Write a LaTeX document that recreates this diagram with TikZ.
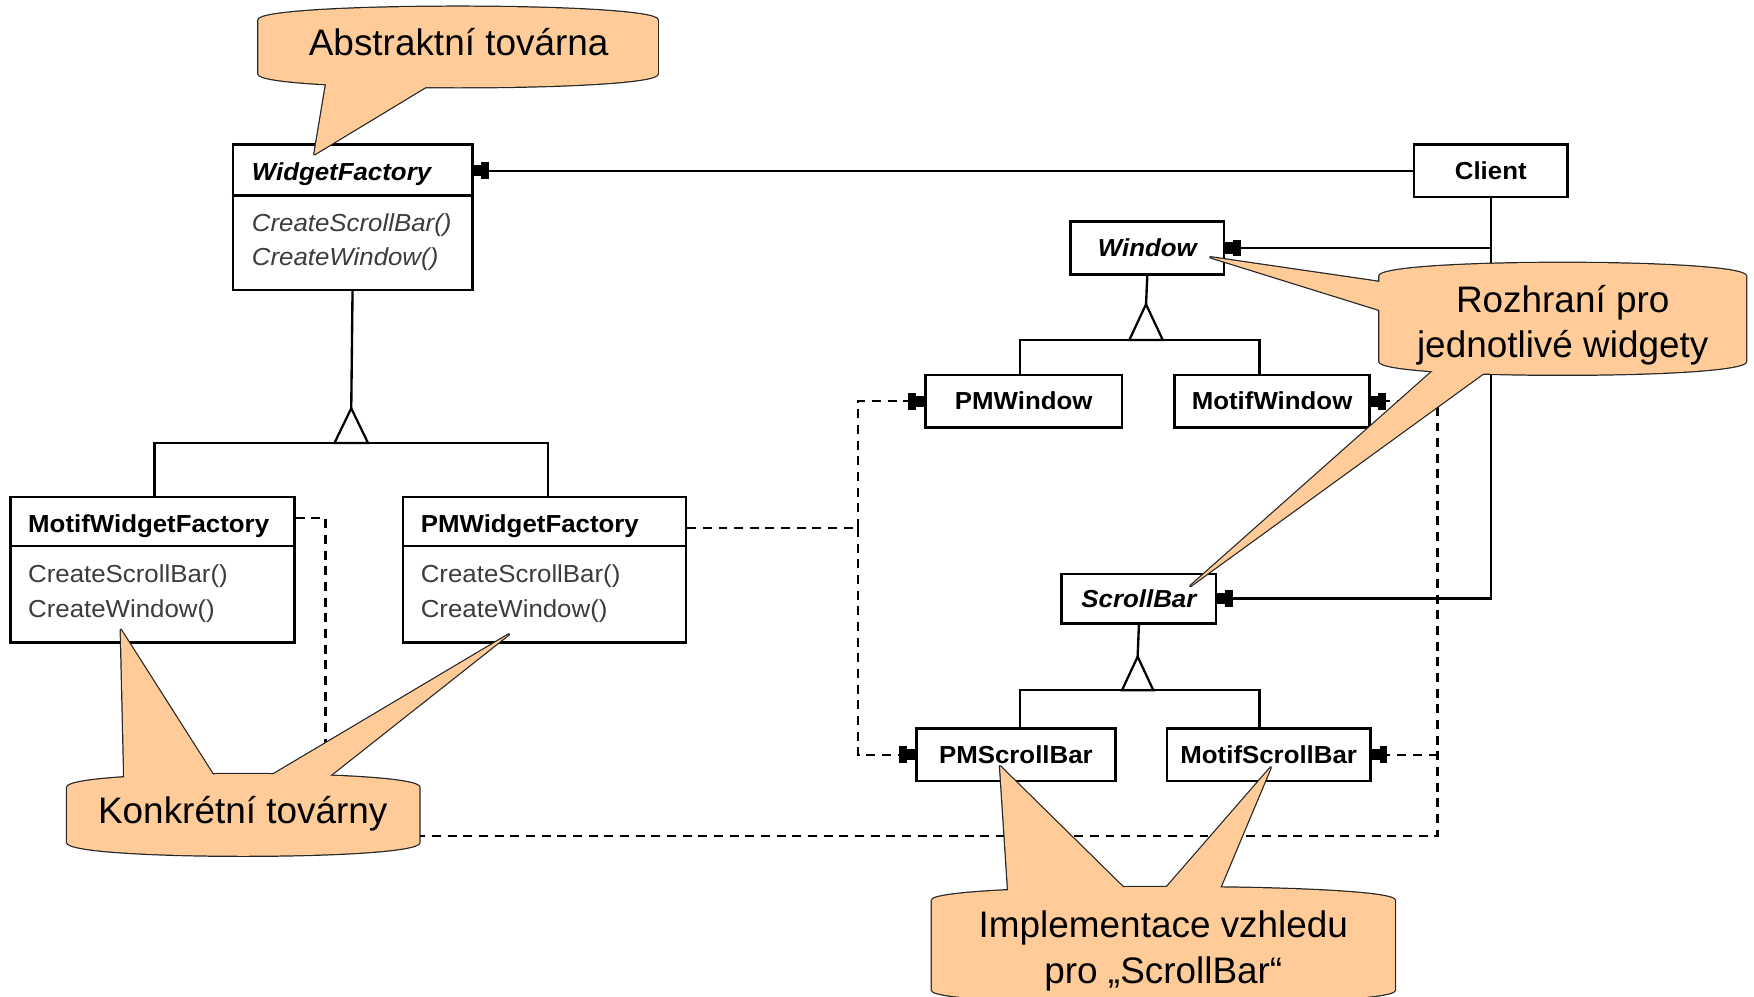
\documentclass[tikz,border=0pt]{standalone}
\usepackage{fontspec}
\setmainfont{Liberation Sans}
\newfontfamily\dfam[FakeStretch=1.05]{Liberation Sans}
\usetikzlibrary{arrows.meta}
\definecolor{peach}{HTML}{FFCC99}
\definecolor{methgray}{HTML}{3C3C3C}
\newcommand\dfont{\dfam\fontsize{22}{27}\selectfont}
\newcommand\cfont{\fontsize{33}{41}\selectfont}
\def\cbody#1#2#3#4{(#1,#4-12) -- (#1,#2+12) .. controls (#1,#2-4) and (#3,#2-4) .. (#3,#2+12) -- (#3,#4-12) .. controls (#3,#4+4) and (#1,#4+4) .. cycle}
\tikzset{
  box/.style={draw, line width=2.3pt, fill=white, inner sep=0pt, anchor=north west, font=\dfont\bfseries},
  absbox/.style={box, font=\dfont\bfseries\itshape},
  ttl/.style={anchor=base west, inner sep=0pt, font=\dfont\bfseries},
  meth/.style={anchor=base west, inner sep=0pt, font=\dfont, text=methgray},
  sep/.style={line width=2.3pt},
  ln/.style={line width=2.1pt},
  dep/.style={line width=2pt, dash pattern=on 8pt off 6pt},
  arr/.style={-{Rectangle[length=7pt,width=15pt]Rectangle[length=7pt,width=10pt]}},
  tri/.style={line width=2pt, fill=white, line join=miter},
  co/.style={fill=peach, draw=black!85, line width=2.2pt, line join=round},
  cline/.style={draw=black!85, line width=2.2pt},
  ct/.style={anchor=base, align=center, inner sep=0pt, font=\cfont}
}
\begin{document}
\begin{tikzpicture}[x=1pt,y=-1pt]
\useasboundingbox (0,0) rectangle (1568,891);

% ---------- boxes ----------
\node[box, minimum width=214pt, minimum height=130pt] (wf) at (207,128) {};
\draw[sep] (207,175) -- (424,175);
\node[ttl, font=\dfont\bfseries\itshape] (wft) at (225,161) {WidgetFactory};
\node[meth, font=\dfont\itshape] (wfm1) at (225,207) {CreateScrollBar()};
\node[meth, font=\dfont\itshape] (wfm2) at (225,237) {CreateWindow()};

\node[box, minimum width=254pt, minimum height=130pt] (mwf) at (8,443) {};
\draw[sep] (8,488) -- (262,488);
\node[ttl] (mwft) at (25,476) {MotifWidgetFactory};
\node[meth] (mwfm1) at (25,521) {CreateScrollBar()};
\node[meth] (mwfm2) at (25,552) {CreateWindow()};

\node[box, minimum width=253pt, minimum height=130pt] (pwf) at (359,443) {};
\draw[sep] (359,488) -- (612,488);
\node[ttl] (pwft) at (376,476) {PMWidgetFactory};
\node[meth] (pwfm1) at (376,521) {CreateScrollBar()};
\node[meth] (pwfm2) at (376,552) {CreateWindow()};

\node[box, minimum width=137pt, minimum height=47pt] (client) at (1263,128) {Client};
\node[absbox, minimum width=137pt, minimum height=47pt] (win) at (956,197) {Window};
\node[box, minimum width=176pt, minimum height=47pt] (pmw) at (826,334) {PMWindow};
\node[box, minimum width=174pt, minimum height=47pt] (mw) at (1049,334) {MotifWindow};
\node[absbox, minimum width=138pt, minimum height=44pt] (sb) at (948,512) {ScrollBar};
\node[box, minimum width=178pt, minimum height=47pt] (psb) at (818,650) {PMScrollBar};
\node[box, minimum width=182pt, minimum height=47pt] (msb) at (1042,650) {MotifScrollBar};

% ---------- inheritance ----------
\coordinate (wfl) at (138,396);
\coordinate (wfr) at (490,396);
\draw[ln] (mwf.north -| wfl) -- (wfl) -- (wfr) -- (pwf.north -| wfr);
\draw[ln] (wf.south) -- (314,365);
\draw[tri] (314,365) -- (299,396) -- (329,396) -- cycle;

\coordinate (wl) at (912,304);
\coordinate (wr) at (1126,304);
\draw[ln] (pmw.north -| wl) -- (wl) -- (wr) -- (mw.north -| wr);
\draw[ln] (win.south) -- (1024.5,272);
\draw[tri] (1024.5,272) -- (1009.5,304) -- (1039.5,304) -- cycle;

\coordinate (sl) at (912,617);
\coordinate (sr) at (1126,617);
\draw[ln] (psb.north -| sl) -- (sl) -- (sr) -- (msb.north -| sr);
\draw[ln] (sb.south) -- (1017,587);
\draw[tri] (1017,587) -- (1003,617) -- (1031,617) -- cycle;

% ---------- client associations ----------
\draw[ln, arr] (client.west) -- (client.west -| wf.east);
\draw[ln, arr] (client.south) |- (sb.east);
\draw[ln, arr] (client.south |- win.east) -- (win.east);

% ---------- creates (dashed) ----------
\coordinate (d1) at (767,472);
\draw[dep] (pwf.east |- d1) -- (d1);
\draw[dep, arr] (d1) |- (pmw.west);
\draw[dep, arr] (d1) |- (psb.west);

\coordinate (d2) at (291,747);
\coordinate (d3) at (1285,747);
\draw[dep] (mwf.east |- 0,463) -| (d2) -- (d3) -- (d3 |- mw.east);
\draw[dep, arr] (d3 |- mw.east) -- (mw.east);
\draw[dep, arr] (d3 |- msb.east) -- (msb.east);

% ---------- callout: Abstraktni tovarna ----------
\filldraw[co] (281,138) -- (293,66) -- (400,66) -- cycle;
\draw[cline] \cbody{231}{6}{588}{78};
\fill[peach] \cbody{231}{6}{588}{78};
\fill[peach] (281,138) -- (293,66) -- (400,66) -- cycle;
\node[ct] (c1) at (410,50) {Abstraktní továrna};

% ---------- callout: Rozhrani ----------
\filldraw[co] (1082,230) -- (1250,254.5) -- (1250,282.3) -- cycle;
\filldraw[co] (1064,524) -- (1294,320) -- (1345,320) -- cycle;
\draw[cline] \cbody{1233}{235}{1561}{335};
\fill[peach] \cbody{1233}{235}{1561}{335};
\fill[peach] (1082,230) -- (1250,254.5) -- (1250,282.3) -- cycle;
\fill[peach] (1064,524) -- (1294,320) -- (1345,320) -- cycle;
\node[ct] (c2) at (1397,320) {Rozhraní pro\\jednotlivé widgety};

% ---------- callout: Konkretni tovarny ----------
\filldraw[co] (108,563) -- (111.3,704) -- (197.7,704) -- cycle;
\filldraw[co] (455,567) -- (224.5,704) -- (281.6,704) -- cycle;
\draw[cline] \cbody{60}{692}{375}{765};
\fill[peach] \cbody{60}{692}{375}{765};
\fill[peach] (108,563) -- (111.3,704) -- (197.7,704) -- cycle;
\fill[peach] (455,567) -- (224.5,704) -- (281.6,704) -- cycle;
\node[ct] (c3) at (217,736) {Konkrétní továrny};

% ---------- callout: Implementace ----------
\filldraw[co] (894,685) -- (901.8,805) -- (1016,805) -- cycle;
\filldraw[co] (1136,686) -- (1032.6,805) -- (1086,805) -- cycle;
\draw[cline] \cbody{833}{793}{1247}{897};
\fill[peach] \cbody{833}{793}{1247}{897};
\fill[peach] (894,685) -- (901.8,805) -- (1016,805) -- cycle;
\fill[peach] (1136,686) -- (1032.6,805) -- (1086,805) -- cycle;
\node[ct] (c4) at (1040,879) {Implementace vzhledu\\pro „ScrollBar“};
\end{tikzpicture}
\end{document}
